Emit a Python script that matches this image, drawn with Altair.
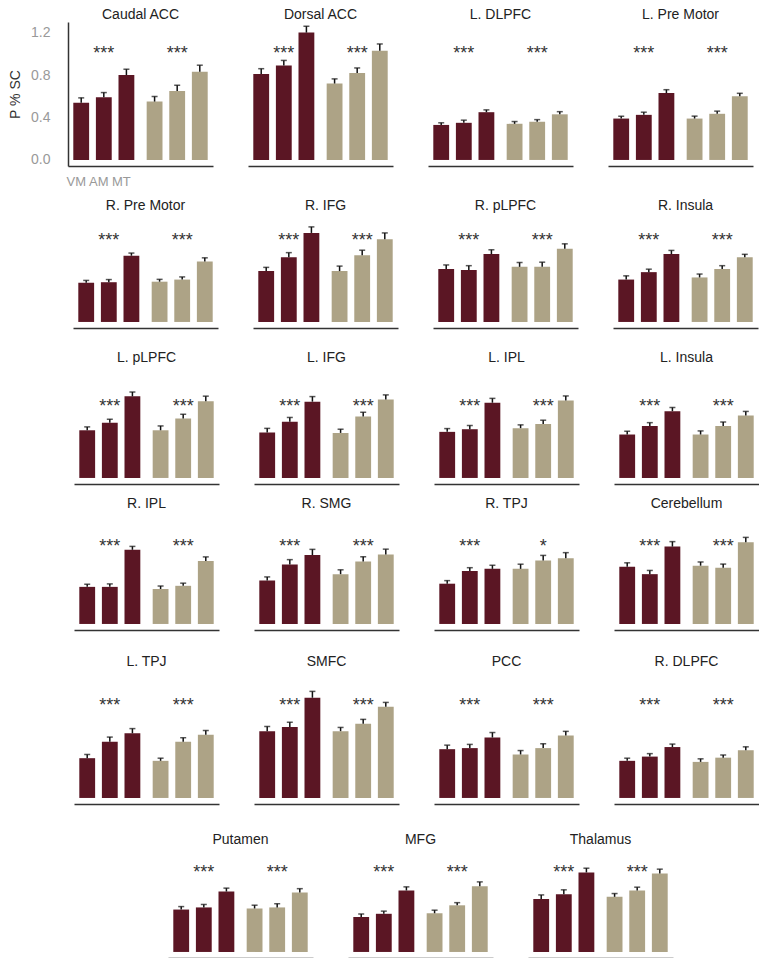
import altair as alt
import pandas as pd

regions = ["Caudal ACC", "Dorsal ACC", "L. DLPFC", "L. Pre Motor",
           "R. Pre Motor", "R. IFG", "R. pLPFC", "R. Insula",
           "L. pLPFC", "L. IFG", "L. IPL", "L. Insula",
           "R. IPL", "R. SMG", "R. TPJ", "Cerebellum",
           "L. TPJ", "SMFC", "PCC", "R. DLPFC",
           "Putamen", "MFG", "Thalamus"]
conds = ["VM", "AM", "MT"]
groups = ["maroon", "tan"]

maroon = [[0.54, 0.59, 0.80], [0.81, 0.89, 1.20], [0.33, 0.35, 0.45], [0.39, 0.425, 0.63],
          [0.37, 0.375, 0.625], [0.48, 0.61, 0.84], [0.50, 0.49, 0.64], [0.40, 0.47, 0.64],
          [0.45, 0.52, 0.77], [0.43, 0.53, 0.72], [0.435, 0.46, 0.71], [0.41, 0.49, 0.63],
          [0.35, 0.35, 0.70], [0.41, 0.56, 0.65], [0.38, 0.50, 0.52], [0.54, 0.47, 0.73],
          [0.375, 0.53, 0.61], [0.63, 0.67, 0.945], [0.46, 0.47, 0.57], [0.35, 0.39, 0.48],
          [0.40, 0.42, 0.57], [0.33, 0.36, 0.58], [0.50, 0.545, 0.75]]
maroon_err = [[0.045, 0.045, 0.055], [0.05, 0.048, 0.06], [0.02, 0.025, 0.022], [0.022, 0.025, 0.032],
              [0.022, 0.025, 0.025], [0.035, 0.044, 0.057], [0.038, 0.041, 0.041], [0.035, 0.028, 0.035],
              [0.032, 0.034, 0.041], [0.038, 0.041, 0.048], [0.031, 0.035, 0.041], [0.031, 0.032, 0.035],
              [0.025, 0.028, 0.032], [0.034, 0.047, 0.054], [0.029, 0.031, 0.034], [0.037, 0.035, 0.047],
              [0.035, 0.044, 0.044], [0.044, 0.044, 0.06], [0.038, 0.035, 0.047], [0.025, 0.028, 0.028],
              [0.028, 0.028, 0.032], [0.028, 0.025, 0.034], [0.038, 0.041, 0.04]]
tan = [[0.55, 0.65, 0.83], [0.72, 0.82, 1.03], [0.34, 0.36, 0.43], [0.39, 0.435, 0.60],
       [0.38, 0.40, 0.57], [0.48, 0.63, 0.78], [0.52, 0.52, 0.69], [0.42, 0.50, 0.61],
       [0.45, 0.56, 0.725], [0.425, 0.58, 0.74], [0.47, 0.51, 0.73], [0.41, 0.49, 0.59],
       [0.33, 0.36, 0.595], [0.47, 0.59, 0.655], [0.52, 0.60, 0.62], [0.55, 0.53, 0.77],
       [0.35, 0.53, 0.595], [0.63, 0.70, 0.86], [0.41, 0.47, 0.59], [0.34, 0.38, 0.45],
       [0.41, 0.42, 0.56], [0.365, 0.44, 0.62], [0.52, 0.58, 0.74]]
tan_err = [[0.048, 0.054, 0.063], [0.044, 0.047, 0.063], [0.022, 0.02, 0.025], [0.023, 0.025, 0.028],
           [0.022, 0.025, 0.035], [0.047, 0.047, 0.06], [0.041, 0.044, 0.047], [0.032, 0.031, 0.028],
           [0.041, 0.041, 0.047], [0.035, 0.04, 0.044], [0.031, 0.035, 0.044], [0.034, 0.038, 0.038],
           [0.028, 0.025, 0.038], [0.041, 0.044, 0.051], [0.044, 0.047, 0.053], [0.035, 0.035, 0.047],
           [0.025, 0.038, 0.041], [0.035, 0.041, 0.041], [0.037, 0.041, 0.038], [0.029, 0.025, 0.032],
           [0.031, 0.035, 0.037], [0.029, 0.025, 0.041], [0.031, 0.031, 0.041]]
stars_maroon = ["***"] * 23
stars_tan = ["***"] * 14 + ["*"] + ["***"] * 8
y_ticks = [0.0, 0.4, 0.8, 1.2]

rows_idx = [[0, 1, 2, 3], [4, 5, 6, 7], [8, 9, 10, 11], [12, 13, 14, 15], [16, 17, 18, 19], [20, 21, 22]]

MAROON = "#5b1624"
TAN = "#ada386"
K = 105.8
YMIN = -0.057
row_ymax = [1.30, 1.028, 1.066, 1.066, 1.216, 0.99]
row_star = [1.05, 0.81, 0.72, 0.775, 0.915, 0.79]
row_shift = [0, 3, 5, 5, 5, 100]
row_gap = [10, 23, 13, 25, 29]
PW = 145
COLGAP = 35


def panel(i, ymax, star_y, first):
    recs = []
    for g, vals, errs in ((groups[0], maroon[i], maroon_err[i]), (groups[1], tan[i], tan_err[i])):
        for c, v, e in zip(conds, vals, errs):
            recs.append({"group": g, "cond": c, "value": v, "top": round(v + e, 4)})
    df = pd.DataFrame(recs)
    h = round((ymax - YMIN) * K)
    xscale = alt.Scale(domain=groups, paddingInner=0.076, paddingOuter=0.026)
    xenc = alt.X("group:N", scale=xscale,
                 axis=alt.Axis(labels=False, ticks=False, title=None, grid=False,
                               domainColor="#333", domainWidth=1.5))
    xoff = alt.XOffset("cond:N", scale=alt.Scale(domain=conds, paddingInner=0.3, paddingOuter=0.15))
    yscale = alt.Scale(domain=[YMIN, ymax], nice=False, zero=False)
    if first:
        yaxis = alt.Axis(values=y_ticks, format=".1f", title="P % SC", grid=False, ticks=False,
                         labelColor="#999", labelFontSize=14, labelPadding=18,
                         titleColor="#333", titleFontSize=14, titleFontWeight="normal",
                         titlePadding=8, domainColor="#333", domainWidth=1.5)
    else:
        yaxis = None
    base = alt.Chart(df)
    bars = base.mark_bar().encode(
        x=xenc, xOffset=xoff,
        y=alt.Y("value:Q", scale=yscale, axis=yaxis),
        y2=alt.datum(0),
        color=alt.Color("group:N", scale=alt.Scale(domain=groups, range=[MAROON, TAN]), legend=None),
    )
    rules = base.mark_rule(color="#111", strokeWidth=1.5).encode(
        x="group:N", xOffset="cond:N", y="value:Q", y2="top:Q")
    caps = base.mark_tick(color="#111", thickness=1.5, size=6, orient="horizontal").encode(
        x="group:N", xOffset="cond:N", y="top:Q")
    sdf = pd.DataFrame({"group": groups, "label": [stars_maroon[i], stars_tan[i]]})
    stars = alt.Chart(sdf).mark_text(fontSize=18, color="#333", baseline="alphabetic", dy=10).encode(
        x="group:N", y=alt.datum(star_y), text="label:N")
    layers = [bars, rules, caps, stars]
    if first:
        ldf = pd.DataFrame({"group": [groups[0]] * 3, "cond": conds})
        labels = alt.Chart(ldf).mark_text(fontSize=13, color="#999", baseline="top", dx=-5).encode(
            x="group:N", xOffset="cond:N", y=alt.value(h + 10), text="cond:N")
        layers.append(labels)
    return alt.layer(*layers).properties(
        width=PW, height=h,
        title=alt.TitleParams(regions[i], fontSize=14, fontWeight="normal", color="#222", offset=0),
    )


def spacer(w):
    return alt.Chart(pd.DataFrame({"s": [0]})).mark_point(opacity=0).encode(
        x=alt.X("s:Q", axis=None), y=alt.Y("s:Q", axis=None)).properties(width=w, height=10)


rows = []
for r, idx in enumerate(rows_idx):
    panels = alt.hconcat(*[panel(i, row_ymax[r], row_star[r], first=(i == 0)) for i in idx],
                         spacing=COLGAP)
    if row_shift[r] > 0:
        panels = alt.hconcat(spacer(row_shift[r]), panels, spacing=0)
    rows.append(panels)

chart = rows[0]
for r, gap in zip(rows[1:], row_gap):
    chart = alt.vconcat(chart, r, spacing=gap)

chart = chart.properties(padding={"left": 0, "top": 0, "right": 0, "bottom": 0}).configure(
    font="Liberation Sans", view=alt.ViewConfig(stroke=None))

chart.save("out.html", embed_options={"renderer": "svg", "actions": False})
